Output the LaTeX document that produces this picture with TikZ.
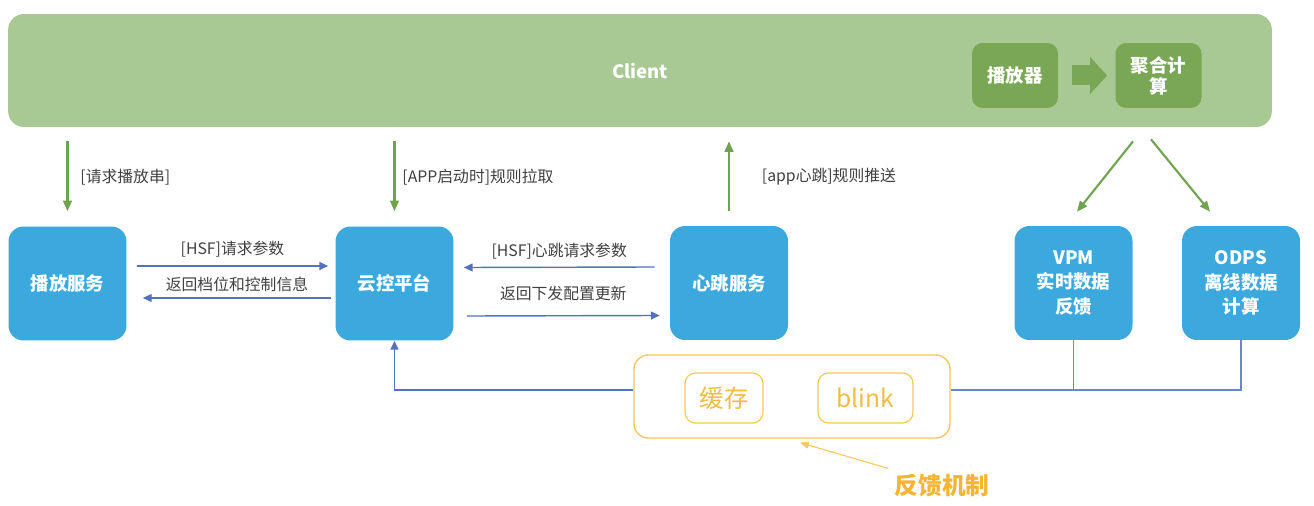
\documentclass[tikz,border=0pt]{standalone}
\usepackage{fontspec}
\setmainfont{Noto Sans CJK SC}
\usetikzlibrary{arrows.meta, positioning, calc}
\definecolor{clientgreen}{RGB}{169,201,148}
\definecolor{innergreen}{RGB}{122,167,86}
\definecolor{arrowgreen}{RGB}{112,163,80}
\definecolor{svcblue}{RGB}{59,168,222}
\definecolor{linkblue}{RGB}{82,114,190}
\definecolor{fborange}{RGB}{245,200,90}
\definecolor{fbtext}{RGB}{240,188,70}
\definecolor{notecol}{RGB}{245,180,50}

\begin{document}
\begin{tikzpicture}[
    x=0.02cm, y=-0.02cm,
    clientbar/.style={rounded corners=9pt, fill=clientgreen,
        minimum width=25.28cm, minimum height=2.26cm,
        text=white, font=\fontsize{10.5}{13}\selectfont\bfseries},
    innerbox/.style={rounded corners=6pt, fill=innergreen,
        minimum width=1.72cm, minimum height=1.3cm,
        text=white, font=\fontsize{10.5}{12}\selectfont\bfseries, align=center},
    svcbox/.style={rounded corners=8.5pt, fill=svcblue,
        minimum width=2.36cm, minimum height=2.28cm,
        text=white, font=\fontsize{10.5}{14}\selectfont\bfseries, align=center},
    fbbox/.style={rounded corners=8pt, draw=fborange, line width=0.8pt,
        minimum width=6.32cm, minimum height=1.66cm},
    fbinner/.style={rounded corners=6pt, draw=fborange, line width=0.7pt,
        minimum height=1.0cm, text=fbtext, font=\fontsize{14}{16}\selectfont},
    fbnote/.style={text=notecol, font=\fontsize{13.5}{16}\selectfont\bfseries},
    lbl/.style={font=\fontsize{9}{11}\selectfont, text=black!75},
    blockarrow/.style={line width=0.4cm, innergreen,
        -{Triangle[width=0.72cm, length=0.34cm]}},
    garrow/.style={-{Triangle[length=6pt, width=5pt]}, line width=1.2pt, arrowgreen},
    barrow/.style={-{Triangle[length=5pt, width=4.5pt]}, line width=0.8pt, linkblue},
    fbline/.style={line width=1pt, linkblue!85},
    oarrow/.style={-{Triangle[length=5pt, width=4pt]}, line width=0.6pt, fborange}
]
\useasboundingbox (0,0) rectangle (1314,506);

% Client
\node[clientbar] (client) at (640,70.5) {Client};
\node[innerbox] (player) at (1015,75.5) {播放器};
\node[innerbox] (juhe) at (1158.5,75.5) {聚合计\\算};
\draw[blockarrow, shorten <=0.28cm, shorten >=0.16cm] (player) -- (juhe);

% Services
\node[svcbox] (bofang) at (67.5,283.5) {播放服务};
\node[svcbox] (yunkong) at (394.5,283.5) {云控平台};
\node[svcbox] (xintiao) at (729,283) {心跳服务};
\node[svcbox] (vpm) at (1073.5,283) {VPM\\实时数据\\反馈};
\node[svcbox] (odps) at (1241,283) {ODPS\\离线数据\\计算};

% Feedback
\node[fbbox] (fb) at (792,396.5) {};
\node[fbinner, minimum width=1.56cm] (cache) at (724,398) {缓存};
\node[fbinner, minimum width=1.9cm] (blink) at (865.5,398) {blink};
\node[fbnote] (fbnote) at (942,486) {反馈机制};

% Client <-> services
\draw[garrow, shorten <=0.28cm, shorten >=0.3cm] (client.south -| bofang) -- (bofang.north)
    node[lbl, midway, right=0.12cm] {[请求播放串]};
\draw[garrow, shorten <=0.28cm, shorten >=0.3cm] (client.south -| yunkong) -- (yunkong.north)
    node[lbl, midway, right=0.02cm] {[APP启动时]规则拉取};
\draw[garrow, shorten <=0.3cm, shorten >=0.28cm] (xintiao.north) -- (client.south -| xintiao)
    node[lbl, midway, right=0.52cm] {[app心跳]规则推送};
\draw[garrow] ($(client.south -| juhe)+(-25.5,14)$) -- ($(vpm.north)+(3.5,-14)$);
\draw[garrow] ($(client.south -| juhe)+(-7.5,12)$) -- ($(odps.north)+(-31,-14)$);

% HSF calls
\draw[barrow] ($(bofang.east)+(10,-17.5)$) -- ($(yunkong.west)+(-7,-17.5)$)
    node[lbl, midway, above=0.04cm] {[HSF]请求参数};
\draw[barrow] ($(yunkong.west)+(-4,14.5)$) -- ($(bofang.east)+(16,14.5)$)
    node[lbl, midway, above=0cm] {返回档位和控制信息};
\draw[barrow] ($(xintiao.west)+(-15,-16)$) -- ($(yunkong.east)+(10,-16)$)
    node[lbl, midway, above=0.04cm] {[HSF]心跳请求参数};
\draw[barrow] ($(yunkong.east)+(13,32.5)$) -- ($(xintiao.west)+(-10,32.5)$)
    node[lbl, midway, above=0.16cm] {返回下发配置更新};

% feedback loop
\draw[fbline] (vpm.south) |- ($(fb.east)+(0,-6.5)$);
\draw[fbline] (odps.south) |- ($(fb.east)+(0,-6.5)$);
\draw[barrow, line width=1pt] ($(fb.west)+(0,-6.5)$) -| (yunkong.south);
\draw[oarrow] (fbnote.north west) -- ($(fb.south)+(8,4)$);

\end{tikzpicture}
\end{document}
